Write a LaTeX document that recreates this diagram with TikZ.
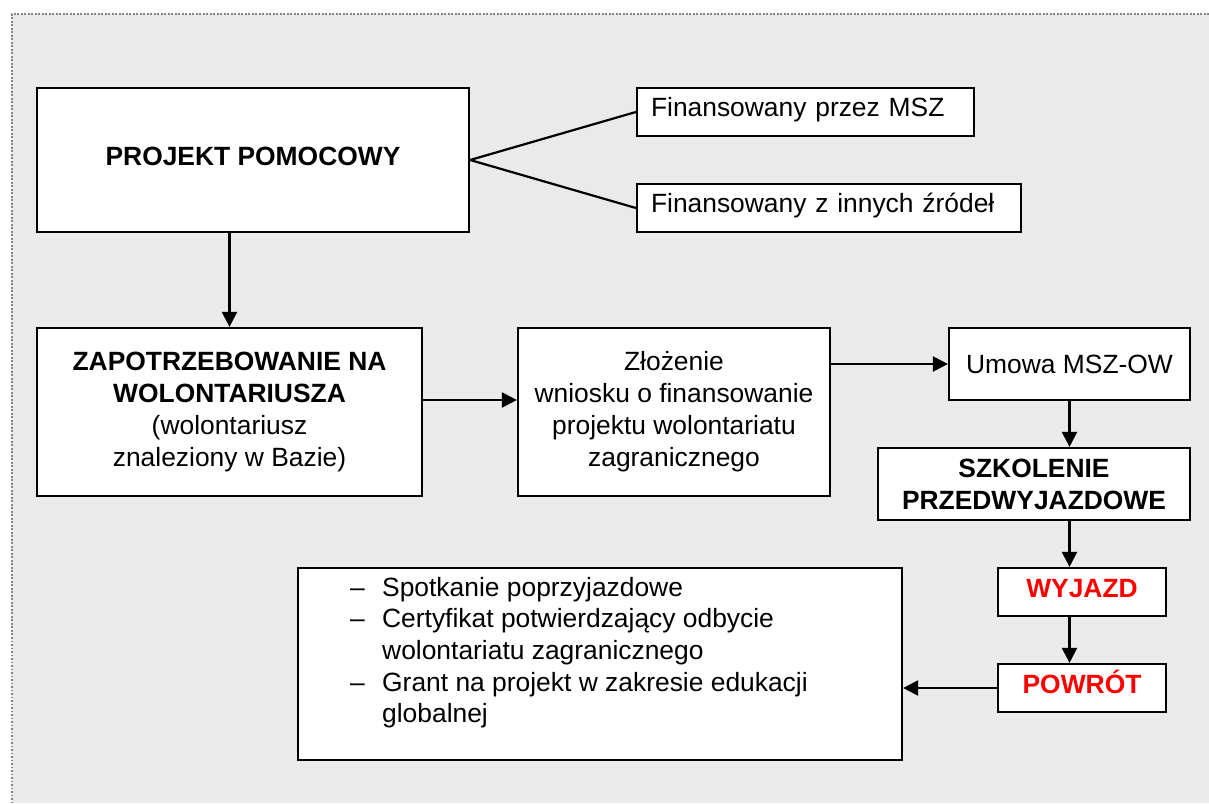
\documentclass[tikz,border=0pt]{standalone}
\usepackage{fontspec}
\setmainfont{Liberation Sans}
\usetikzlibrary{arrows.meta}
\definecolor{bggray}{RGB}{234,234,234}
\definecolor{dotgray}{RGB}{130,130,130}
\definecolor{txtred}{RGB}{255,0,0}
\newcommand{\bodyfont}{\fontsize{26.4}{32}\selectfont}
\begin{document}
\begin{tikzpicture}[x=1pt,y=-1pt,
  box/.style={draw=black, line width=2.2pt, fill=white, inner sep=0pt,
              font=\bodyfont, align=center},
  leftbox/.style={box, inner xsep=14pt, align=left, text height=18pt, text depth=10pt},
  redbox/.style={box, font=\bodyfont\bfseries, text=txtred, text height=19pt, text depth=8pt},
  conn/.style={line width=2.2pt},
  arr/.style={conn, -{Triangle[length=15pt,width=15pt]}},
  frame/.style={dotgray, line width=2pt, dash pattern=on 1.8pt off 1.7pt}
]
\useasboundingbox (0,0) rectangle (1209,803);
\fill[bggray] (12,14) rectangle (1209,803);
\draw[frame] (1209,14) -- (12,14) -- (12,803);

% boxes
\node[box, minimum width=432pt, minimum height=144pt, font=\bodyfont\bfseries,
      text height=19pt, text depth=9pt] (proj) at (253,160) {PROJEKT POMOCOWY};
\node[leftbox, minimum width=337pt, minimum height=48pt, text width=309pt] (fin1) at (805.5,112) {Finansowany przez MSZ};
\node[leftbox, minimum width=384pt, minimum height=48pt, text width=356pt] (fin2) at (829,208) {Finansowany z innych źródeł};
\node[box, minimum width=385pt, minimum height=168pt] (zap) at (229.5,412)
  {\textbf{ZAPOTRZEBOWANIE NA}\\\textbf{WOLONTARIUSZA}\\(wolontariusz\\znaleziony w Bazie)};
\node[box, minimum width=312pt, minimum height=168pt] (zloz) at (674,412)
  {Złożenie\\wniosku o finansowanie\\projektu wolontariatu\\zagranicznego};
\node[box, minimum width=241pt, minimum height=72pt] (umowa) at (1069.5,364) {Umowa MSZ-OW};
\node[box, minimum width=312pt, minimum height=72pt, font=\bodyfont\bfseries] (szk) at (1034,484)
  {SZKOLENIE\\PRZEDWYJAZDOWE};
\node[redbox, minimum width=168pt, minimum height=48pt] (wyj) at (1082,592) {WYJAZD};
\node[redbox, minimum width=168pt, minimum height=48pt] (pow) at (1082,688) {POWRÓT};
\node[box, minimum width=604pt, minimum height=192pt] (list) at (600,664) {};
\node[anchor=north west, inner sep=0pt, font=\fontsize{26.4}{31.6}\selectfont] (listtext) at (350,574)
  {\begin{tabular}{@{}p{32pt}@{}l@{}}
   – & Spotkanie poprzyjazdowe\\
   – & Certyfikat potwierdzający odbycie\\
     & wolontariatu zagranicznego\\
   – & Grant na projekt w zakresie edukacji\\
     & globalnej
   \end{tabular}};

% connectors
\draw[conn] (proj.east) -- (fin1.west);
\draw[conn] (proj.east) -- (fin2.west);
\draw[arr] (zap.north |- proj.south) -- (zap.north);
\draw[arr] ([yshift=12pt]zap.east) -- ([yshift=12pt]zloz.west);
\draw[arr] (zloz.east |- umowa.west) -- (umowa.west);
\draw[arr] (umowa.south) -- (umowa.south |- szk.north);
\draw[arr] (umowa.south |- szk.south) -- (umowa.south |- wyj.north);
\draw[arr] (umowa.south |- wyj.south) -- (umowa.south |- pow.north);
\draw[arr] (pow.west) -- (list.east |- pow.west);
\end{tikzpicture}
\end{document}
